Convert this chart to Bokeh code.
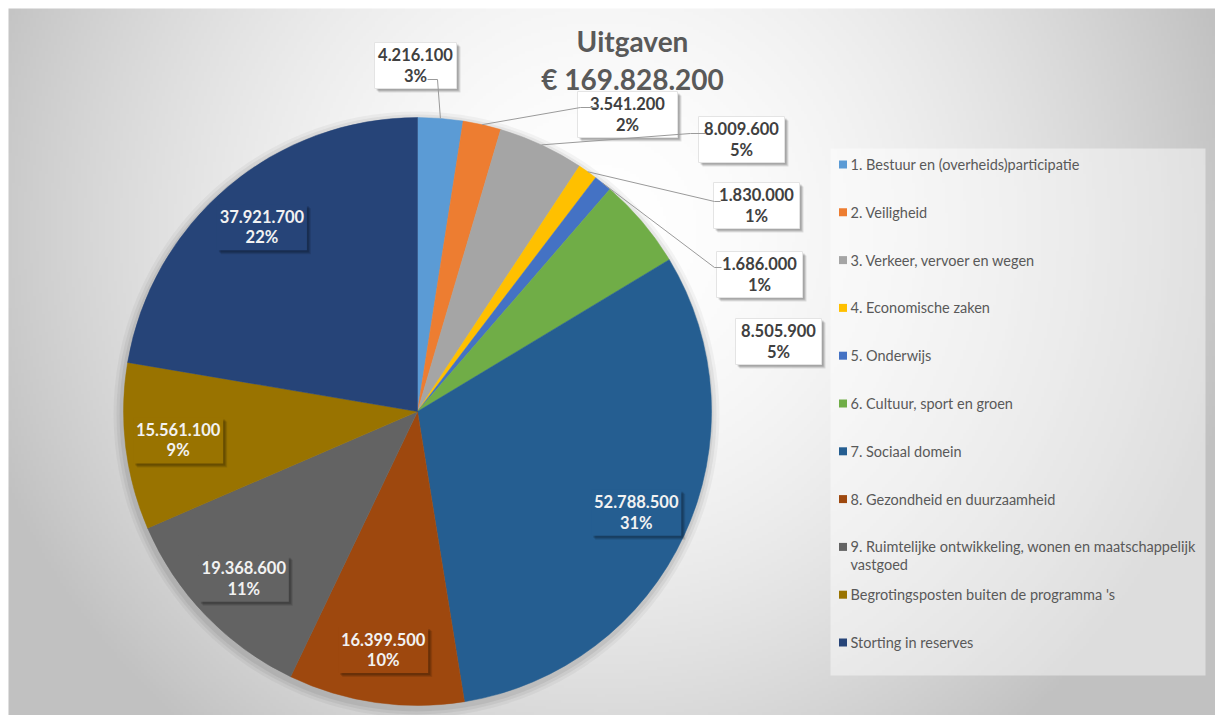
import numpy as np
from bokeh.plotting import figure
from bokeh.models import Range1d
from bokeh.core.properties import value
from bokeh.embed import file_html
from bokeh.resources import INLINE

# ---------------- data ----------------
title_lines = ["Uitgaven", "€ 169.828.200"]
categories = [
    "1. Bestuur en (overheids)participatie",
    "2. Veiligheid",
    "3. Verkeer, vervoer en wegen",
    "4. Economische zaken",
    "5. Onderwijs",
    "6. Cultuur, sport en groen",
    "7. Sociaal domein",
    "8. Gezondheid en duurzaamheid",
    "9. Ruimtelijke ontwikkeling, wonen en maatschappelijk vastgoed",
    "Begrotingsposten buiten de programma 's",
    "Storting in reserves",
]
amounts = [4216100, 3541200, 8009600, 1830000, 1686000, 8505900,
           52788500, 16399500, 19368600, 15561100, 37921700]
pct_labels = ["3%", "2%", "5%", "1%", "1%", "5%", "31%", "10%", "11%", "9%", "22%"]
colors = ["#5B9BD5", "#ED7D31", "#A5A5A5", "#FFC000", "#4472C4", "#70AD47",
          "#255E91", "#9E480E", "#636363", "#997300", "#264478"]

# ---------------- layout (screen pixel coords -> data) ----------------
W, H = 1215, 715
def X(xi): return xi
def Y(yi): return H - yi

FONT = value("Lato")
p = figure(width=W, height=H, x_range=Range1d(0, W), y_range=Range1d(0, H),
           x_axis_type=None, y_axis_type=None, toolbar_location=None,
           output_backend="svg", min_border=0)
p.grid.visible = False
p.outline_line_color = None
p.background_fill_color = "#FFFFFF"
p.border_fill_color = "#FFFFFF"

# chart-area background: radial gradient (x 8..1215, y 8..715 on screen)
x0, y0 = 8, 8
aw, ah = W - x0, H - y0
nx, ny = 402, 236
xs = x0 + (np.arange(nx) + 0.5) * aw / nx
ys = H - (np.arange(ny) + 0.5) * ah / ny
XX, YY = np.meshgrid(xs, ys)
t = np.clip(np.hypot(XX - 600, YY - 230) / 650.0, 0, 1)
g = (255 - 62 * t ** 1.8).astype(np.uint8)
img = np.empty((ny, nx), dtype=np.uint32)
v = img.view(dtype=np.uint8).reshape((ny, nx, 4))
v[..., 0] = g; v[..., 1] = g; v[..., 2] = g; v[..., 3] = 255
p.image_rgba(image=[img], x=X(x0), y=0, dw=aw, dh=ah)

# title
p.text(x=[X(632)], y=[Y(40)], text=[title_lines[0]], text_font=FONT,
       text_font_size="28px", text_font_style="bold", text_color="#595959",
       text_align="center", text_baseline="alphabetic")
p.text(x=[X(632)], y=[Y(78)], text=[title_lines[1]], text_font=FONT,
       text_font_size="28px", text_font_style="bold", text_color="#595959",
       text_align="center", text_baseline="alphabetic")

# pie
cx, cy, R = X(417), Y(411), 294
total = float(sum(amounts))
fr = np.array(amounts) / total
c1 = np.cumsum(fr)
c0 = c1 - fr
mid = (c0 + c1) / 2
start = np.pi / 2 - 2 * np.pi * c0
end = np.pi / 2 - 2 * np.pi * c1

for k, a in zip([9, 6, 3], [0.04, 0.05, 0.06]):
    p.circle(x=[cx - 1], y=[cy - 3], radius=R + k, fill_color="#000000",
             fill_alpha=a, line_color=None)

p.wedge(x=cx, y=cy, radius=R, start_angle=start, end_angle=end,
        direction="clock", fill_color=colors, line_color=colors, line_width=0.5)

def fmt(n):
    return f"{n:,}".replace(",", ".")

def box(bx, by, w, h, fill, txt_color, line1, line2, border=None):
    for off, a in [(4, 0.10), (3, 0.12), (2, 0.14)]:
        p.rect(x=[bx + off], y=[by - off], width=w, height=h,
               fill_color="#000000", fill_alpha=a, line_color=None)
    p.rect(x=[bx], y=[by], width=w, height=h, fill_color=fill,
           line_color=border, line_width=1)
    p.text(x=[bx], y=[by + 11], text=[line1], text_font=FONT,
           text_font_size="16.5px", text_font_style="bold", text_color=txt_color,
           text_align="center", text_baseline="middle")
    p.text(x=[bx], y=[by - 10], text=[line2], text_font=FONT,
           text_font_size="16.5px", text_font_style="bold", text_color=txt_color,
           text_align="center", text_baseline="middle")

# outer labels (small slices): box centre and width in screen pixels
outer_pos = {0: (415, 65, 82), 1: (627, 114, 100), 2: (741, 139, 86),
             3: (756, 205, 86), 4: (759, 274, 86), 5: (778, 341, 86)}
leader_pts = {0: [(437, 79), (427, 79)], 1: [(580, 107), (597, 107)],
              2: [(690, 133), (705, 133)], 3: [(714, 201), (720, 201)],
              4: [(714, 267), (721, 267)]}
for i, (bx, by, w) in outer_pos.items():
    box(X(bx), Y(by), w, 46, "#FFFFFF", "#404040", fmt(amounts[i]), pct_labels[i],
        border="#E4E4E4")
for i, pts in leader_pts.items():
    ang = 2 * np.pi * mid[i]
    ex, ey = cx + R * np.sin(ang), cy + R * np.cos(ang)
    p.line(x=[ex] + [X(a) for a, b in pts], y=[ey] + [Y(b) for a, b in pts],
           line_color="#9A9A9A", line_width=1)

# inner labels (large slices)
for i in range(6, 11):
    ang = 2 * np.pi * mid[i]
    r = 0.82 * R
    box(cx + r * np.sin(ang), cy + r * np.cos(ang), 90, 46, colors[i], "#F2F2F2",
        fmt(amounts[i]), pct_labels[i])

# legend
p.rect(x=[X((830 + 1205) / 2)], y=[Y((148 + 675) / 2)], width=375, height=527,
       fill_color="#FFFFFF", fill_alpha=0.45, line_color=None)
for i, name in enumerate(categories):
    yy = 164 + i * 47.8
    p.rect(x=[X(842.5)], y=[Y(yy)], width=8, height=8, fill_color=colors[i],
           line_color=None)
    lines = [name]
    if name.endswith(" vastgoed"):
        lines = [name[:-len(" vastgoed")], "vastgoed"]
    for j, ln in enumerate(lines):
        p.text(x=[X(850)], y=[Y(yy + 18 * j)], text=[ln], text_font=FONT,
               text_font_size="14.5px", text_color="#595959",
               text_align="left", text_baseline="middle")

open("out.html", "w").write(file_html(p, INLINE))
